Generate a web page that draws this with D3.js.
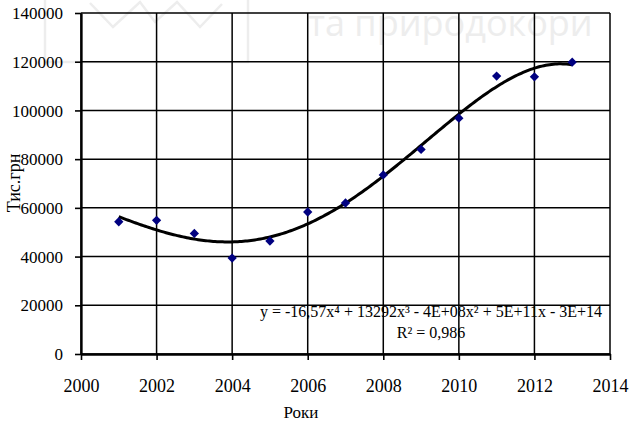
<!DOCTYPE html>
<html>
<head>
<meta charset="utf-8">
<script src="https://cdn.jsdelivr.net/npm/d3@7"></script>
</head>
<body style="margin:0; background:#fff">
<div id="chart"></div>
<script>
// data
var years = [2001, 2002, 2003, 2004, 2005, 2006, 2007, 2008, 2009, 2010, 2011, 2012, 2013];
var values = [54300, 54900, 49500, 39400, 46400, 58300, 62000, 73500, 84000, 96800, 114100, 113800, 119800];
var xTicks = [2000, 2002, 2004, 2006, 2008, 2010, 2012, 2014];
var yTicks = [0, 20000, 40000, 60000, 80000, 100000, 120000, 140000];
var equationText = 'y = -16,57x\u2074 + 13292x\u00b3 - 4E+08x\u00b2 + 5E+11x - 3E+14';
var r2Text = 'R\u00b2 = 0,986';

var serif = '"Liberation Serif"';
var width = 630, height = 423;
var margin = {top: 13, right: 20, bottom: 69, left: 81};

var svg = d3.select('#chart').append('svg')
    .attr('width', width)
    .attr('height', height);

// faint watermark in the background
var wm = svg.append('g').attr('fill', 'none').attr('stroke', '#ededed').attr('stroke-width', 2.5);
wm.append('polyline').attr('points', '45,0 45,62 248,62 248,0');
wm.append('polyline').attr('points', '90,3 113,27 140,2 155,22 177,2 200,27 222,4');
svg.append('text')
    .attr('x', 308).attr('y', 36)
    .style('font-family', '"Open Sans"')
    .style('font-size', '36px')
    .attr('fill', '#ededed')
    .text('та природокори');

var x = d3.scaleLinear().domain([2000, 2014]).range([margin.left, width - margin.right]);
var y = d3.scaleLinear().domain([0, 140000]).range([height - margin.bottom, margin.top]);

// grid
svg.append('g').selectAll('line').data(yTicks).enter().append('line')
    .attr('x1', margin.left).attr('x2', width - margin.right)
    .attr('y1', function(d) { return y(d); }).attr('y2', function(d) { return y(d); })
    .attr('stroke', '#000').attr('stroke-width', 1.5);
svg.append('g').selectAll('line').data(xTicks).enter().append('line')
    .attr('y1', margin.top).attr('y2', height - margin.bottom)
    .attr('x1', function(d) { return x(d); }).attr('x2', function(d) { return x(d); })
    .attr('stroke', '#000').attr('stroke-width', 1.5);

// axes
var xAxis = svg.append('g')
    .attr('transform', 'translate(0,' + (height - margin.bottom) + ')')
    .call(d3.axisBottom(x).tickValues(xTicks).tickFormat(d3.format('d')).tickSize(6).tickSizeOuter(0));
var yAxis = svg.append('g')
    .attr('transform', 'translate(' + margin.left + ',0)')
    .call(d3.axisLeft(y).tickValues(yTicks).tickFormat(d3.format('d')).tickSize(6).tickSizeOuter(0));

[xAxis, yAxis].forEach(function(a) {
  a.select('.domain').attr('stroke', '#000').attr('stroke-width', 2.3);
  a.selectAll('.tick line').attr('stroke', '#000').attr('stroke-width', 1.6);
  a.selectAll('.tick text')
      .style('font-family', serif)
      .attr('fill', '#000');
});
xAxis.selectAll('.tick text').style('font-size', '18px').attr('y', 25).attr('dy', '0.71em');
yAxis.selectAll('.tick text').style('font-size', '17px').attr('x', -18).attr('dy', '0.33em');

// 4th order polynomial trend (least squares, centered x)
function polyFit(xs, ys, order) {
  var n = order + 1, A = [], b = [];
  for (var i = 0; i < n; i++) {
    A.push([]);
    b.push(0);
    for (var j = 0; j < n; j++) {
      var s = 0;
      xs.forEach(function(v) { s += Math.pow(v, i + j); });
      A[i].push(s);
    }
    xs.forEach(function(v, k) { b[i] += ys[k] * Math.pow(v, i); });
  }
  for (var c = 0; c < n; c++) {
    var p = c;
    for (var r = c + 1; r < n; r++) if (Math.abs(A[r][c]) > Math.abs(A[p][c])) p = r;
    var t = A[c]; A[c] = A[p]; A[p] = t;
    var tb = b[c]; b[c] = b[p]; b[p] = tb;
    for (var r2 = c + 1; r2 < n; r2++) {
      var f = A[r2][c] / A[c][c];
      for (var k2 = c; k2 < n; k2++) A[r2][k2] -= f * A[c][k2];
      b[r2] -= f * b[c];
    }
  }
  var coef = new Array(n).fill(0);
  for (var i2 = n - 1; i2 >= 0; i2--) {
    var s2 = b[i2];
    for (var j2 = i2 + 1; j2 < n; j2++) s2 -= A[i2][j2] * coef[j2];
    coef[i2] = s2 / A[i2][i2];
  }
  return coef;
}

var x0 = 2007;
var coef = polyFit(years.map(function(d) { return d - x0; }), values, 4);
var trend = d3.range(years[0], years[years.length - 1] + 0.001, 0.05).map(function(t) {
  var u = t - x0, v = 0;
  coef.forEach(function(c, i) { v += c * Math.pow(u, i); });
  return [t, v];
});

svg.append('path')
    .datum(trend)
    .attr('fill', 'none')
    .attr('stroke', '#000')
    .attr('stroke-width', 3)
    .attr('d', d3.line().x(function(d) { return x(d[0]); }).y(function(d) { return y(d[1]); }));

// markers
svg.append('g').selectAll('path').data(years).enter().append('path')
    .attr('d', d3.symbol().type(d3.symbolDiamond2).size(55))
    .attr('transform', function(d, i) { return 'translate(' + x(d) + ',' + y(values[i]) + ')'; })
    .attr('fill', '#000080');

// equation labels
svg.append('text')
    .attr('x', 431).attr('y', 317)
    .attr('text-anchor', 'middle')
    .style('font-family', serif)
    .style('font-size', '16px')
    .text(equationText);
svg.append('text')
    .attr('x', 431).attr('y', 338)
    .attr('text-anchor', 'middle')
    .style('font-family', serif)
    .style('font-size', '16px')
    .text(r2Text);

// axis titles
svg.append('text')
    .attr('transform', 'translate(20,183) rotate(-90)')
    .attr('text-anchor', 'middle')
    .style('font-family', serif)
    .style('font-size', '18px')
    .text('Тис.грн');
svg.append('text')
    .attr('x', 301).attr('y', 418)
    .attr('text-anchor', 'middle')
    .style('font-family', serif)
    .style('font-size', '17px')
    .text('Роки');
</script>
</body>
</html>
